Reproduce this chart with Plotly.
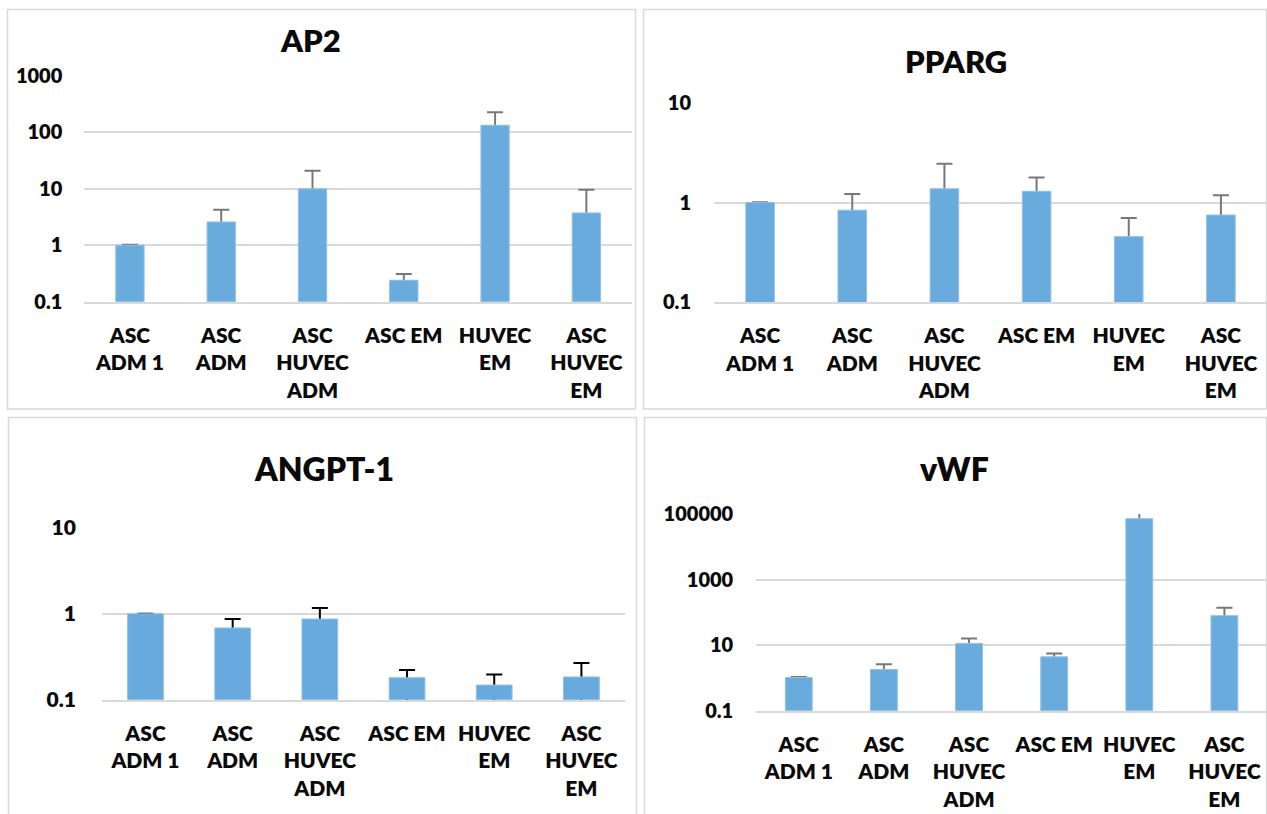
import plotly.graph_objects as go

W, H = 1267, 814

categories = ["ASC<br>ADM 1", "ASC<br>ADM", "ASC<br>HUVEC<br>ADM", "ASC EM", "HUVEC<br>EM", "ASC<br>HUVEC<br>EM"]

ap2_values = [1.0, 2.59, 10.0, 0.24, 134, 3.74]
ap2_err = [0.02, 1.68, 11, 0.07, 94, 5.9]
ap2_ticks = [0.1, 1, 10, 100, 1000]

pparg_values = [1.0, 0.84, 1.38, 1.30, 0.455, 0.75]
pparg_err = [0.01, 0.38, 1.09, 0.49, 0.245, 0.44]
pparg_ticks = [0.1, 1, 10]

angpt_values = [1.0, 0.685, 0.87, 0.18, 0.148, 0.184]
angpt_err = [0.005, 0.185, 0.30, 0.042, 0.048, 0.084]
angpt_ticks = [0.1, 1, 10]

vwf_values = [1.03, 1.8, 11.3, 4.4, 72000, 79]
vwf_err = [0.03, 0.8, 4.7, 1.2, 62000, 59]
vwf_ticks = [0.1, 10, 1000, 100000]

FONT = "Lato"
WEIGHT = 800
TXT = "#0a0a0a"
GRID = "#d9d9d9"
BAR = "#6aabdd"

def px_x(a, b):
    return [a / W, min(b / W, 1.0)]

def px_y(top, bottom):
    return [1 - bottom / H, 1 - top / H]

panels = [
    dict(name="AP2", vals=ap2_values, err=ap2_err, ticks=ap2_ticks, rng=[-1, 3],
         dx=px_x(84.3, 632), dy=px_y(76, 301.7), bw=0.31, ecol="#787878", bcol=BAR,
         title_xy=(310, 40), tsize=31, lsize=21, tksize=20, ystand=21,
         border=(7.5, 9.5, 635.5, 409)),
    dict(name="PPARG", vals=pparg_values, err=pparg_err, ticks=pparg_ticks, rng=[-1, 1],
         dx=px_x(714, 1267.3), dy=px_y(103.3, 302), bw=0.31, ecol="#787878", bcol=BAR,
         title_xy=(956, 61), tsize=31, lsize=21, tksize=20, ystand=22,
         border=(643.5, 9.5, 1266.5, 409)),
    dict(name="ANGPT-1", vals=angpt_values, err=angpt_err, ticks=angpt_ticks, rng=[-1, 1],
         dx=px_x(101.9, 625), dy=px_y(528, 699.7), bw=0.41, ecol="#000000", bcol="#68a9de",
         title_xy=(324, 468), tsize=32, lsize=21, tksize=21, ystand=25,
         border=(8.5, 417.5, 636.5, 820)),
    dict(name="vWF", vals=vwf_values, err=vwf_err, ticks=vwf_ticks, rng=[-1, 5],
         dx=px_x(756.2, 1267.3), dy=px_y(514, 710.7), bw=0.315, ecol="#787878", bcol=BAR,
         title_xy=(954, 468), tsize=32, lsize=21, tksize=20, ystand=22,
         border=(644.5, 417.5, 1266.5, 820)),
]

fig = go.Figure()
annotations = []
shapes = []

for i, p in enumerate(panels):
    n = "" if i == 0 else str(i + 1)      # base axes: gridlines + error bars
    m = str(i + 5)                         # overlay axes: bars drawn above error stems
    fig.add_trace(go.Scatter(
        x=categories, y=p["vals"], mode="markers",
        marker=dict(size=1, opacity=0),
        error_y=dict(type="data", symmetric=False, array=p["err"],
                     arrayminus=[v * 0.5 for v in p["vals"]], color=p["ecol"],
                     thickness=2, width=8),
        xaxis="x" + n, yaxis="y" + n, showlegend=False, hoverinfo="skip",
    ))
    fig.add_trace(go.Bar(
        x=categories, y=p["vals"], width=p["bw"],
        marker=dict(color=p["bcol"], line=dict(color="#8fc0e8", width=1)),
        xaxis="x" + n, yaxis="y" + m, showlegend=False,
    ))
    fig.layout["xaxis" + n] = dict(
        domain=p["dx"], anchor="y" + n, type="category", range=[-0.5, 5.5],
        showgrid=False, showline=True, linecolor=GRID, linewidth=2,
        ticks="", tickfont=dict(family=FONT, size=p["lsize"], color=TXT, weight=WEIGHT),
        ticklabelstandoff=14, fixedrange=True, automargin=False,
    )
    fig.layout["yaxis" + n] = dict(
        domain=p["dy"], anchor="x" + n, type="log", range=p["rng"],
        tickvals=p["ticks"], ticktext=[f"{t:g}" for t in p["ticks"]],
        showgrid=True, gridcolor=GRID, gridwidth=2, zeroline=False, showline=False,
        ticks="", tickfont=dict(family=FONT, size=p["tksize"], color=TXT, weight=WEIGHT),
        ticklabelstandoff=p["ystand"], fixedrange=True, automargin=False,
    )
    fig.layout["yaxis" + m] = dict(
        overlaying="y" + n, anchor="x" + n, type="log", range=p["rng"],
        showgrid=False, showticklabels=False, zeroline=False, showline=False,
        ticks="", fixedrange=True, automargin=False,
    )
    tx, ty = p["title_xy"]
    annotations.append(dict(
        text=p["name"], x=tx / W, y=1 - ty / H, xref="paper", yref="paper",
        xanchor="center", yanchor="middle", showarrow=False,
        font=dict(family=FONT, size=p["tsize"], color=TXT, weight=WEIGHT),
    ))
    x0, y0, x1, y1 = p["border"]
    shapes.append(dict(type="rect", xref="paper", yref="paper",
                       x0=x0 / W, x1=x1 / W, y0=1 - y1 / H, y1=1 - y0 / H,
                       line=dict(color=GRID, width=1.5), layer="below"))

fig.update_layout(
    width=W, height=H, margin=dict(l=0, r=0, t=0, b=0, autoexpand=False),
    paper_bgcolor="white", plot_bgcolor="white",
    annotations=annotations, shapes=shapes, bargap=0.6,
)

fig.write_html("out.html", config={"displayModeBar": False},
               post_script="document.body.style.margin='0px';")
